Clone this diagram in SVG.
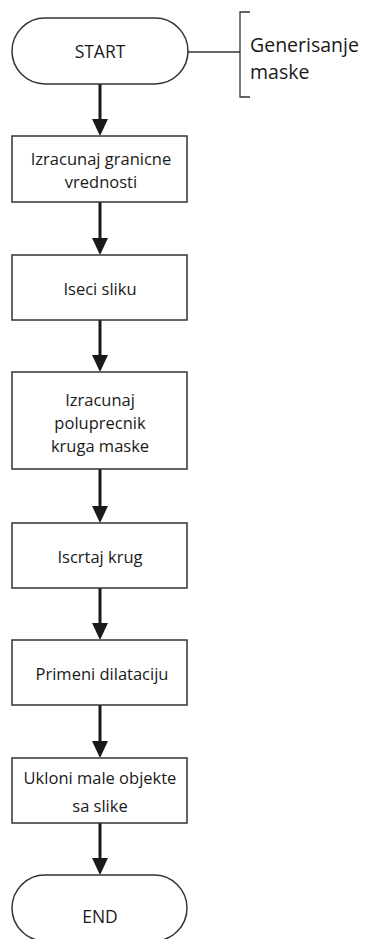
<svg xmlns="http://www.w3.org/2000/svg" width="367" height="939" viewBox="0 0 367 939">
<defs>
<marker id="ah" markerWidth="16" markerHeight="17" refX="9" refY="8" orient="auto" markerUnits="userSpaceOnUse">
<path d="M0,0 L17,8 L0,16 Z" fill="#1a1a1a"/>
</marker>
<style>
.box{fill:#fff;stroke:#333;stroke-width:1.5}
.t{font-family:"Open Sans","Liberation Sans",sans-serif;font-size:16.5px;fill:#1a1a1a;text-anchor:middle}
.term{font-size:17.5px}
.big{font-family:"Open Sans","Liberation Sans",sans-serif;font-size:19.5px;fill:#1a1a1a}
.conn{stroke:#1a1a1a;stroke-width:3;fill:none}
.thin{stroke:#333;stroke-width:1.3;fill:none}
</style>
</defs>
<rect width="367" height="939" fill="#fff"/>
<g id="connectors">
<line class="conn" x1="100" y1="84" x2="100" y2="128" marker-end="url(#ah)"/>
<line class="conn" x1="100" y1="202" x2="100" y2="247" marker-end="url(#ah)"/>
<line class="conn" x1="100" y1="320" x2="100" y2="364" marker-end="url(#ah)"/>
<line class="conn" x1="100" y1="469" x2="100" y2="515" marker-end="url(#ah)"/>
<line class="conn" x1="100" y1="588" x2="100" y2="632" marker-end="url(#ah)"/>
<line class="conn" x1="100" y1="705" x2="100" y2="750" marker-end="url(#ah)"/>
<line class="conn" x1="100" y1="823" x2="100" y2="867" marker-end="url(#ah)"/>
<line class="thin" x1="188" y1="52" x2="240" y2="52"/>
</g>
<g id="start">
<rect class="box" x="12" y="18" width="176" height="66" rx="33" ry="33"/>
<text class="t term" x="100" y="58">START</text>
</g>
<g id="annotation">
<path class="thin" d="M250,12 H240 V97 H250"/>
<text class="big" x="250" y="52">Generisanje</text>
<text class="big" x="250" y="79">maske</text>
</g>
<g id="n1">
<rect class="box" x="12" y="136" width="175" height="66"/>
<text class="t" x="101" y="165">Izracunaj granicne</text>
<text class="t" x="101" y="188">vrednosti</text>
</g>
<g id="n2">
<rect class="box" x="12" y="255" width="175" height="65"/>
<text class="t" x="100" y="295">Iseci sliku</text>
</g>
<g id="n3">
<rect class="box" x="12" y="372" width="175" height="97"/>
<text class="t" x="100" y="406">Izracunaj</text>
<text class="t" x="100" y="429">poluprecnik</text>
<text class="t" x="100" y="452">kruga maske</text>
</g>
<g id="n4">
<rect class="box" x="12" y="523" width="175" height="65"/>
<text class="t" x="100" y="563">Iscrtaj krug</text>
</g>
<g id="n5">
<rect class="box" x="12" y="640" width="175" height="65"/>
<text class="t" x="102" y="680">Primeni dilataciju</text>
</g>
<g id="n6">
<rect class="box" x="12" y="758" width="175" height="65"/>
<text class="t" x="100" y="784">Ukloni male objekte</text>
<text class="t" x="100" y="812">sa slike</text>
</g>
<g id="end">
<rect class="box" x="12" y="875" width="175" height="66" rx="33" ry="33"/>
<text class="t term" x="100" y="923">END</text>
</g>
</svg>
